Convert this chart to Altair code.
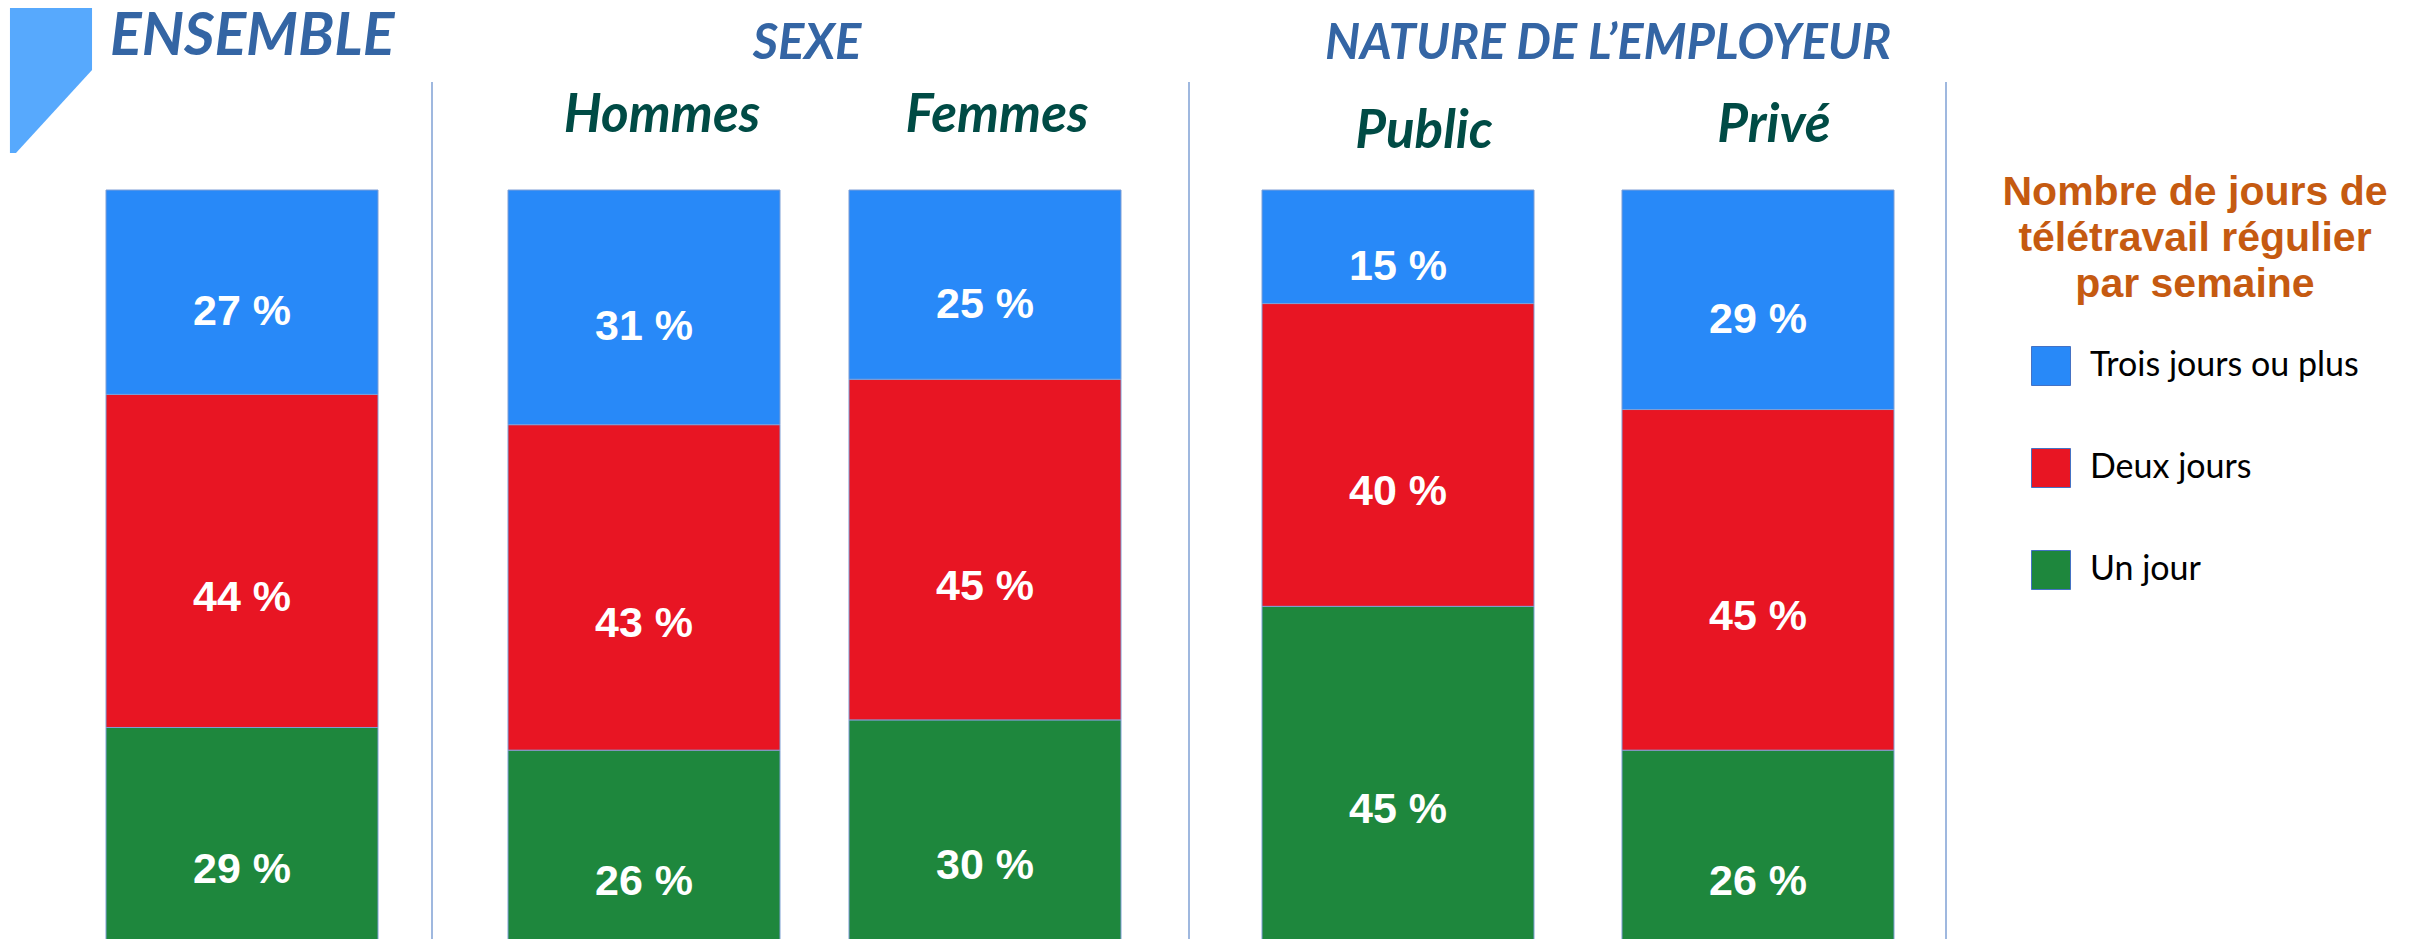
import altair as alt
import pandas as pd

# ---- data ----
groupes = ["Ensemble", "Hommes", "Femmes", "Public", "Privé"]
trois_jours = [27, 31, 25, 15, 29]
deux_jours = [44, 43, 45, 40, 45]
un_jour = [29, 26, 30, 45, 26]
modalites = ["Trois jours ou plus", "Deux jours", "Un jour"]
couleurs = ["#2889F8", "#E81523", "#1E873D"]

rows = []
for i, g in enumerate(groupes):
    for rang, (m, vals) in enumerate(zip(["Un jour", "Deux jours", "Trois jours ou plus"],
                                         [un_jour, deux_jours, trois_jours])):
        rows.append({"groupe": g, "modalite": m, "valeur": vals[i], "rang": rang,
                     "etiquette": f"{vals[i]} %"})
df = pd.DataFrame(rows)

H = 931
Y_SCALE = alt.Scale(domain=[0, 100], range=[939, 182], nice=False)
HEAD_BLUE = "#3465A4"
SUB_GREEN = "#004B45"
LABEL_DY = {"Trois jours ou plus": 20, "Deux jours": 37, "Un jour": 33}

legend = alt.Legend(
    title=["Nombre de jours de", "télétravail régulier", "par semaine"],
    orient="none", legendX=1994, legendY=165,
    titleFont="Liberation Sans", titleFontSize=41, titleFontWeight="bold",
    titleColor="#C55A11", titleLineHeight=46, titleAlign="center", titleAnchor="middle",
    titlePadding=40, titleLimit=0,
    labelFont="Lato", labelFontSize=34, labelColor="#000000", labelOffset=19, labelLimit=0,
    symbolType="square", symbolSize=1521, symbolStrokeColor="#4472C4",
    symbolStrokeWidth=1, symbolOpacity=1, rowPadding=58,
)


def panel(groups, width, x_range, pad_inner, headers, subs, separator=True):
    x = alt.X("groupe:N", sort=groups, axis=None,
              scale=alt.Scale(domain=groups, range=x_range,
                              paddingInner=pad_inner, paddingOuter=0))
    base = alt.Chart(df).transform_filter(
        alt.FieldOneOfPredicate(field="groupe", oneOf=groups))
    bars = base.mark_bar(clip=True, stroke="#7F9FD6", strokeWidth=1).encode(
        x=x,
        y=alt.Y("valeur:Q", stack="zero", axis=None, scale=Y_SCALE),
        color=alt.Color("modalite:N", scale=alt.Scale(domain=modalites, range=couleurs),
                        legend=legend),
        order=alt.Order("rang:Q"),
    )
    layers = [bars]
    stacked = base.transform_stack(
        stack="valeur", groupby=["groupe"], as_=["v0", "v1"],
        sort=[alt.SortField("rang", order="ascending")],
    ).transform_calculate(milieu="(datum.v0 + datum.v1) / 2")
    for m in modalites:
        layers.append(
            stacked.transform_filter(alt.datum.modalite == m).mark_text(
                font="Liberation Sans", fontWeight="bold", fontSize=43, color="white",
                baseline="middle", dy=LABEL_DY[m],
            ).encode(x=x, y=alt.Y("milieu:Q", scale=Y_SCALE, axis=None), text="etiquette:N")
        )
    for g, yv, dxv in subs:
        layers.append(
            base.transform_filter((alt.datum.groupe == g) & (alt.datum.modalite == "Un jour"))
            .mark_text(font="Lato", fontSize=53, fontWeight="bold", fontStyle="italic",
                       color=SUB_GREEN, baseline="alphabetic", dx=dxv)
            .encode(x=x, y=alt.value(yv), text="groupe:N")
        )
    for txt, xv, yv, size, align in headers:
        layers.append(
            alt.Chart(alt.Data(values=[{}])).mark_text(
                text=txt, font="Lato", fontSize=size, fontWeight="bold", fontStyle="italic",
                color=HEAD_BLUE, baseline="alphabetic", align=align,
            ).encode(x=alt.value(xv), y=alt.value(yv))
        )
    if separator:
        layers.append(
            alt.Chart(alt.Data(values=[{}])).mark_rule(color="#7FA0D5", strokeWidth=1.5)
            .encode(x=alt.value(width), y=alt.value(74), y2=alt.value(H))
        )
    return alt.layer(*layers).properties(width=width, height=H)


# decorative corner shape of the original layout
logo = alt.Chart(alt.Data(values=[{}])).mark_point(
    shape="M -0.566 -1 L 0.566 -1 L 0.566 -0.145 L -0.483 1 L -0.566 1 Z",
    size=21025, filled=True, color="#57A9FD", opacity=1, strokeWidth=0,
).encode(x=alt.value(43), y=alt.value(72.5))

p1 = panel(["Ensemble"], 424, [98, 370], 0.0,
           [("ENSEMBLE", 102, 47, 59, "left")], [])
p1 = alt.layer(logo, p1)
p2 = panel(["Hommes", "Femmes"], 756, [75, 688], 0.2023,
           [("SEXE", 374, 51, 49, "center")],
           [("Hommes", 124, 18), ("Femmes", 124, 12)])
p3 = panel(["Public", "Privé"], 756, [72, 704], 0.2444,
           [("NATURE DE L’EMPLOYEUR", 418, 51, 49, "center")],
           [("Public", 140, 26), ("Privé", 134, 16)])

chart = (
    alt.hconcat(p1, p2, p3, spacing=0)
    .resolve_scale(color="shared")
    .resolve_legend(color="shared")
    .properties(padding=0)
    .configure_view(stroke=None)
)

chart.save("out.html", embed_options={"renderer": "svg", "actions": False})
